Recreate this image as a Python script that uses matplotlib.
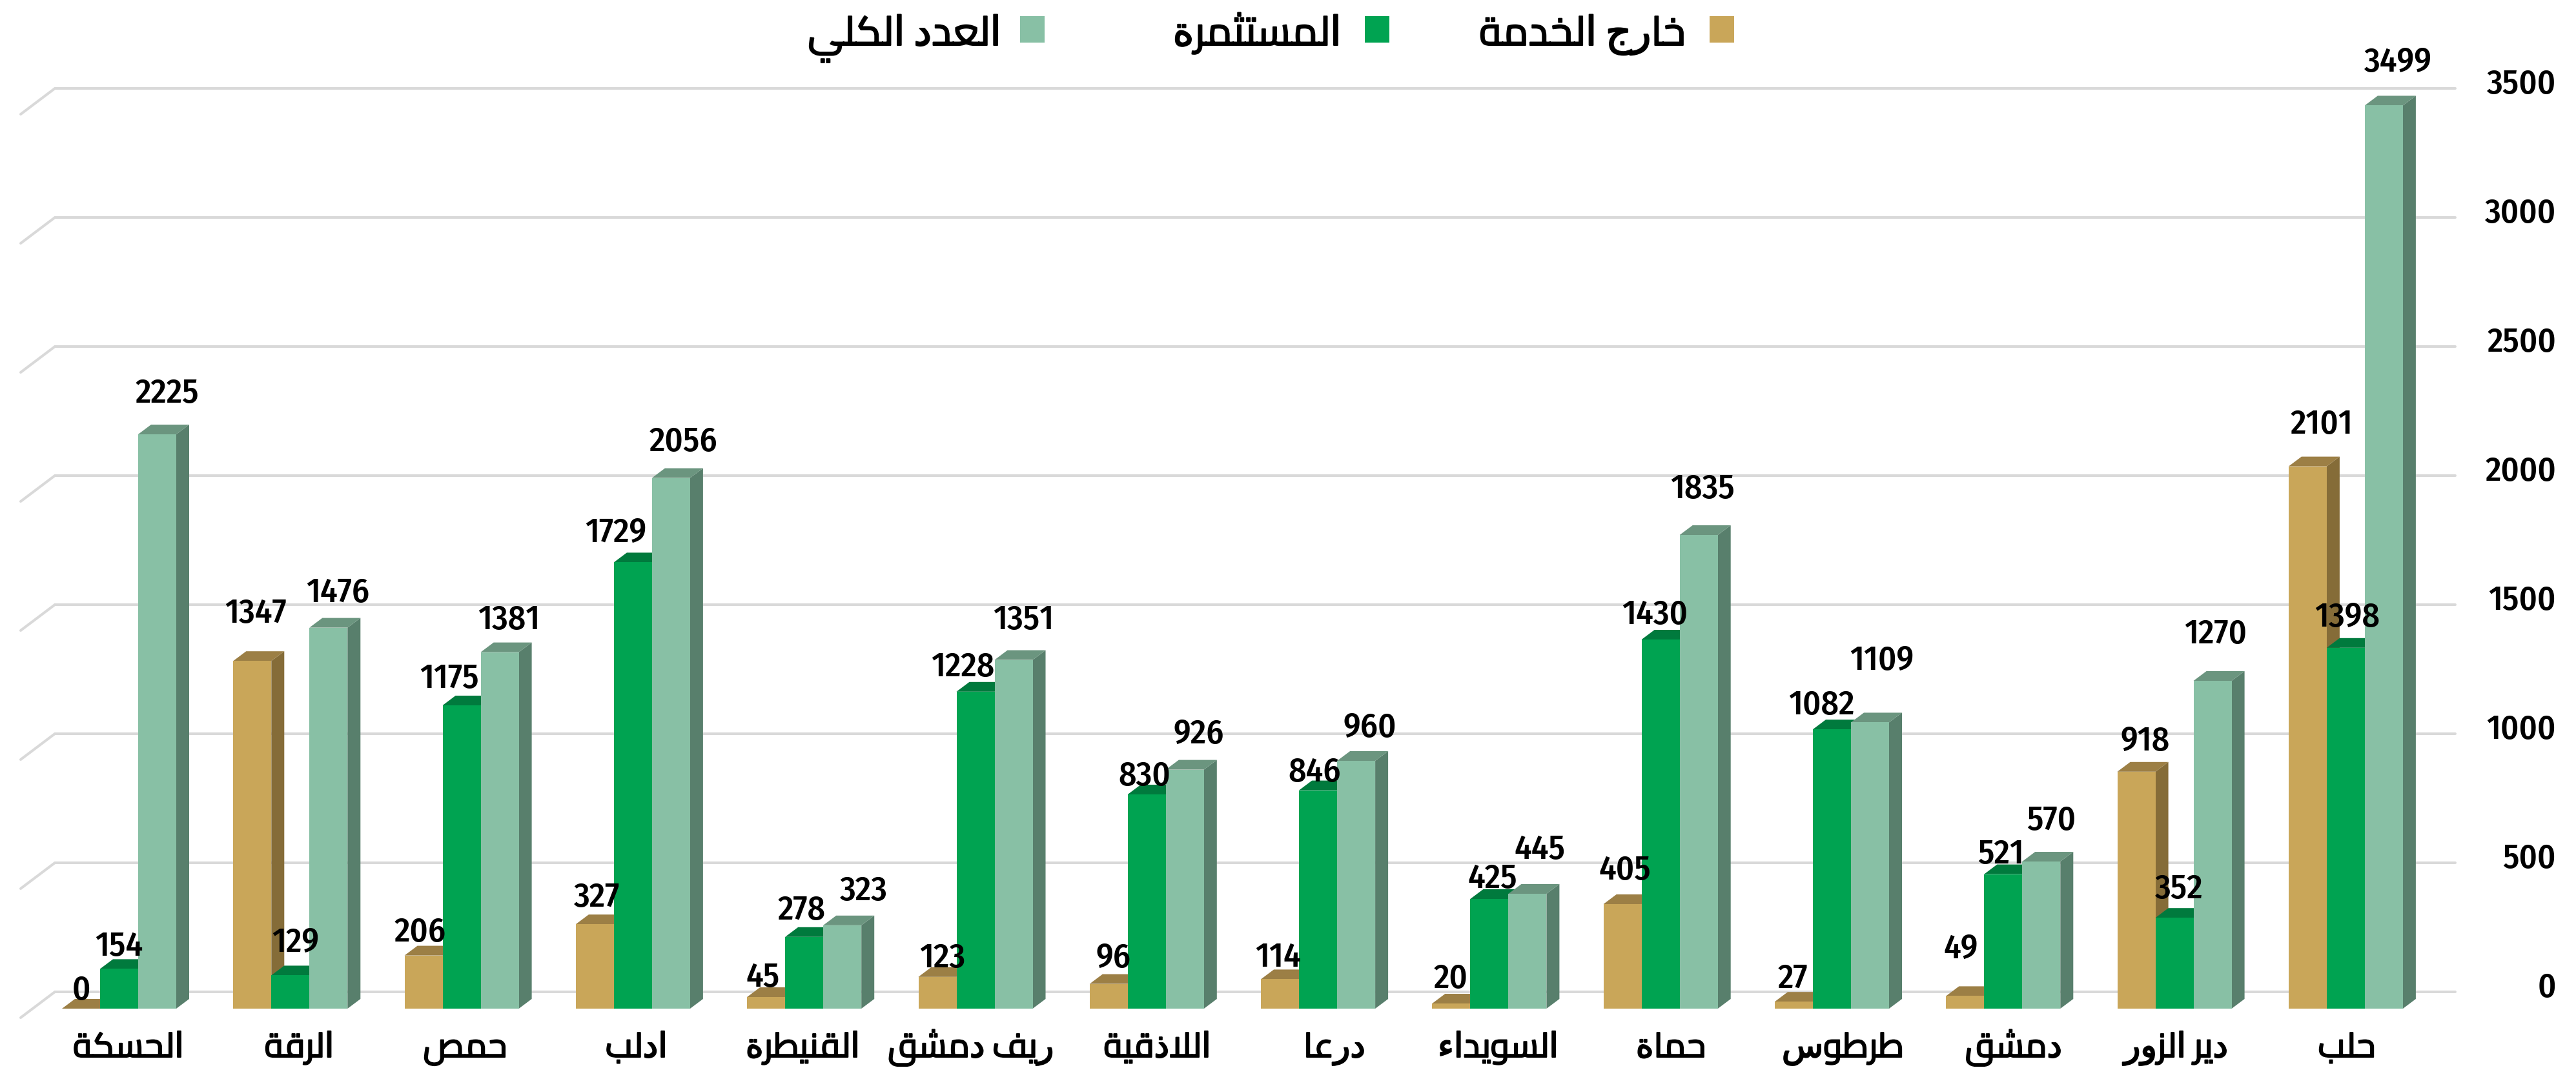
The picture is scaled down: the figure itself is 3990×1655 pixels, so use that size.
import numpy as np
import matplotlib
matplotlib.use("Agg")
import matplotlib.pyplot as plt
import matplotlib.patheffects as pe
from matplotlib.patches import Rectangle

# ---- data ----
categories = ["الحسكة", "الرقة", "حمص", "ادلب", "القنيطرة", "ريف دمشق", "اللاذقية",
              "درعا", "السويداء", "حماة", "طرطوس", "دمشق", "دير الزور", "حلب"]
series_names = ["خارج الخدمة", "المستثمرة", "العدد الكلي"]
out_of_service = [0, 1347, 206, 327, 45, 123, 96, 114, 20, 405, 27, 49, 918, 2101]
in_service = [154, 129, 1175, 1729, 278, 1228, 830, 846, 425, 1430, 1082, 521, 352, 1398]
total = [2225, 1476, 1381, 2056, 323, 1351, 926, 960, 445, 1835, 1109, 570, 1270, 3499]
y_ticks = [0, 500, 1000, 1500, 2000, 2500, 3000, 3500]

# ---- label placement (pixels relative to bar centre / front top) ----
tan_dx = [0, 5, -6, 3, -6, 7, 6, -4, -2, 2, -4, -9, 11, 19]
green_dx = [0, 8, -20, -27, -5, -21, -5, -7, 3, -11, -18, -6, 5, 0]
teal_dx = [15, 14, 14, 18, 32, 14, 20, 20, 18, 4, 16, 13, 2, 19]
tan_gap = [33, 78, 40, 46, 35, 34, 44, 38, 43, 57, 40, 77, 52, 69]
green_gap = [39, 55, 46, 50, 46, 43, 33, 32, 36, 43, 42, 35, 49, 52]
teal_gap = [68, 58, 54, 60, 58, 66, 59, 56, 73, 76, 100, 68, 77, 71]
cat_dx = [14.5, 13.5, 5, 5, -3, -8, 15, 24, 12, 14, 15, 14, 0, -1]

# ---- Arabic shaping (matplotlib has no shaper) ----
FORMS = {'ء': (0xFE80, 1), 'ا': (0xFE8D, 2), 'ب': (0xFE8F, 4), 'ة': (0xFE93, 2), 'ت': (0xFE95, 4),
         'ث': (0xFE99, 4), 'ج': (0xFE9D, 4), 'ح': (0xFEA1, 4), 'خ': (0xFEA5, 4), 'د': (0xFEA9, 2),
         'ذ': (0xFEAB, 2), 'ر': (0xFEAD, 2), 'ز': (0xFEAF, 2), 'س': (0xFEB1, 4), 'ش': (0xFEB5, 4),
         'ص': (0xFEB9, 4), 'ط': (0xFEC1, 4), 'ع': (0xFEC9, 4), 'ف': (0xFED1, 4), 'ق': (0xFED5, 4),
         'ك': (0xFED9, 4), 'ل': (0xFEDD, 4), 'م': (0xFEE1, 4), 'ن': (0xFEE5, 4), 'ه': (0xFEE9, 4),
         'و': (0xFEED, 2), 'ي': (0xFEF1, 4)}


def shape(text):
    out = []
    i = 0
    n = len(text)
    while i < n:
        c = text[i]
        if c not in FORMS:
            out.append(c)
            i += 1
            continue
        prev = text[i - 1] if i > 0 else ' '
        joins_prev = prev in FORMS and FORMS[prev][1] == 4
        if c == 'ل' and i + 1 < n and text[i + 1] == 'ا':
            out.append(chr(0xFEFC if joins_prev else 0xFEFB))
            i += 2
            continue
        nxt = text[i + 1] if i + 1 < n else ' '
        joins_next = FORMS[c][1] == 4 and nxt in FORMS
        base, k = FORMS[c]
        if k == 1:
            form = 0
        elif joins_prev and joins_next:
            form = 3
        elif joins_next:
            form = 2
        elif joins_prev:
            form = 1
        else:
            form = 0
        out.append(chr(base + form))
        i += 1
    return ''.join(reversed(out))


# ---- figure: one axes filling the canvas ----
W, H = 3990, 1655
fig = plt.figure(figsize=(W / 100, H / 100), dpi=100)
ax = fig.add_axes([0, 0, 1, 1])
STEP = 265.3      # px per category
LABEL_STEP = 265.5  # label offsets were measured against this spacing
X0 = 184.5        # px of first category centre
PXV = 0.4         # px per value unit
Y0 = 1563         # px of value 0 on the front plane
ax.set_xlim(-X0 / STEP, (W - X0) / STEP)
ax.set_ylim((Y0 - H) / PXV, Y0 / PXV)
ax.axis('off')


def dxp(px):
    return px / STEP


def dyp(px):
    return px / PXV


def X(px):
    return (px - X0) / STEP


def V(py):
    return (Y0 - py) / PXV


BW = 59 / STEP
DX, DY = dxp(20), dyp(15)
colors = [('#C9A659', '#9C7F45', '#856C38'),
          ('#00A351', '#007A3D', '#006B38'),
          ('#88C0A5', '#6B957F', '#587F6C')]
series = [out_of_service, in_service, total]
dxs = [tan_dx, green_dx, teal_dx]
gaps = [tan_gap, green_gap, teal_gap]

NUM = dict(family=['Fira Sans Condensed', 'Open Sans', 'DejaVu Sans'], weight=500, color='black')
AR = dict(family=['Cairo', 'DejaVu Sans'], color='black')
ar_stroke = [pe.withStroke(linewidth=1.5, foreground='black')]

# gridlines on the back wall + side wall
for t in y_ticks:
    ax.plot([X(32), X(85), X(3803)],
            [t + dyp(-14), t + dyp(26), t + dyp(26)],
            color='#D9D9D9', lw=2.9, solid_capstyle='round', solid_joinstyle='miter', zorder=1)
    ax.text(X(3959), t + dyp(26) + dyp(12), str(t), ha='right', va='center_baseline',
            fontsize=38.5, zorder=20, **NUM)

# bars, group by group
z = 2
xs = np.arange(len(categories))
for i in xs:
    for s, vals in enumerate(series):
        v = vals[i]
        x = i + (s - 1) * BW
        l, r = x - BW / 2, x + BW / 2
        ax.fill([r, r + DX, r + DX, r], [0, DY, v + DY, v], color=colors[s][2], lw=0, zorder=z)
        ax.fill([l, l + DX, r + DX, r], [v, v + DY, v + DY, v], color=colors[s][1], lw=0, zorder=z)
        ax.bar(x, v, width=BW, color=colors[s][0], lw=0, zorder=z + 0.5)
        z += 1

# data labels
for s, vals in enumerate(series):
    for i, v in enumerate(vals):
        x = i * LABEL_STEP / STEP + (s - 1) * BW
        ax.text(x + dxp(dxs[s][i]), v + dyp(gaps[s][i] + 1), str(v), ha='center', va='center_baseline',
                fontsize=38.5, zorder=200, **NUM)

# category labels
for i, name in enumerate(categories):
    ax.text(i * LABEL_STEP / STEP + dxp(cat_dx[i]), V(1638), shape(name), ha='center', va='baseline',
            fontsize=38, path_effects=ar_stroke, zorder=200, **AR)

# legend
swatch_left = [2648, 2114, 1580]
text_right = [2611, 2078, 1551]
for s, name in enumerate(series_names):
    ax.add_patch(Rectangle((X(swatch_left[s]), V(66)), dxp(38), dyp(41),
                           color=colors[s][0], lw=0, zorder=5))
    ax.text(X(text_right[s]), V(70), shape(name), ha='right', va='baseline',
            fontsize=45, path_effects=ar_stroke, zorder=200, **AR)

fig.savefig('out.png', dpi=100, facecolor='white')
